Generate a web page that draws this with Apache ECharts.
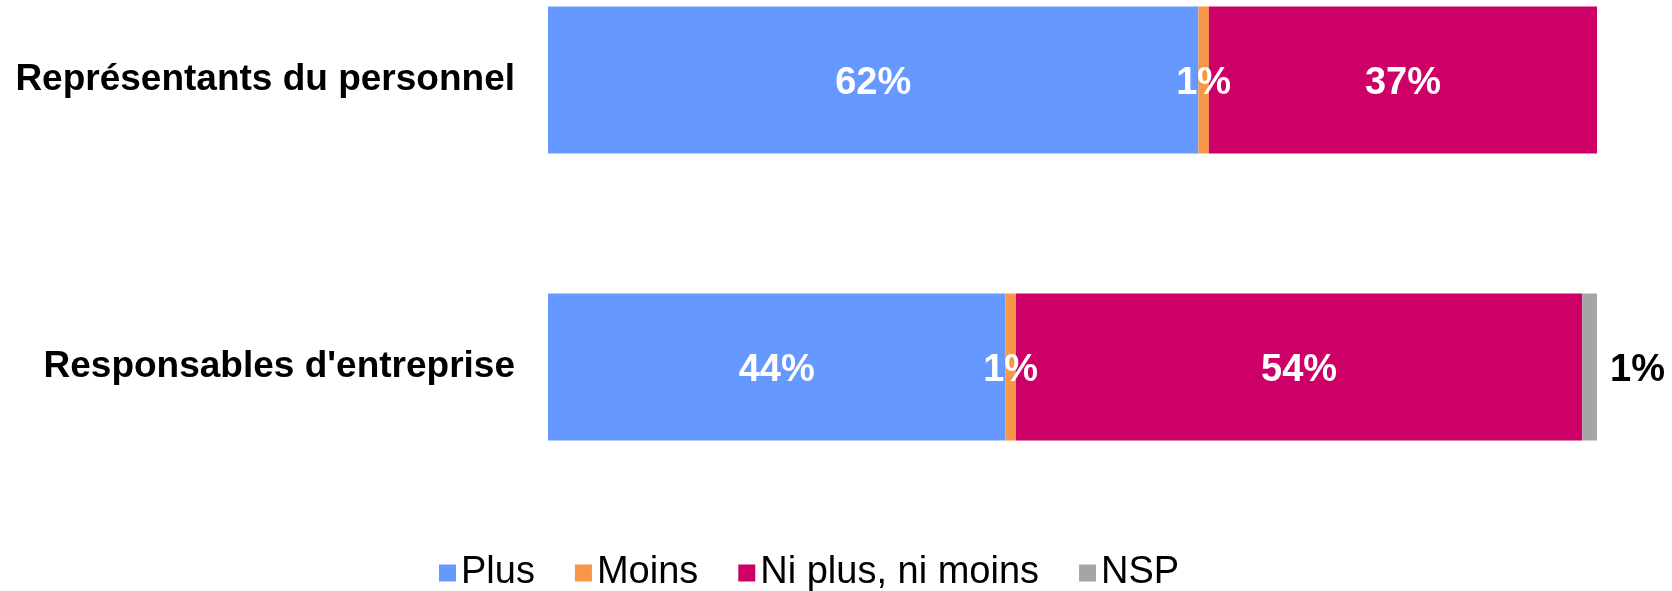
<!DOCTYPE html>
<html>
<head>
<meta charset="utf-8">
<script src="https://cdn.jsdelivr.net/npm/echarts@6/dist/echarts.min.js"></script>
<style>
html,body{margin:0;padding:0;background:#fff;}
#chart{width:1672px;height:591px;}
</style>
</head>
<body>
<div id="chart"></div>
<script>
const categories = ["Représentants du personnel", "Responsables d'entreprise"];
const seriesNames = ["Plus", "Moins", "Ni plus, ni moins", "NSP"];
const plusValues = [62, 43.6];
const moinsValues = [1, 1];
const niValues = [37, 54];
const nspValues = [0, 1.4];
const colors = ["#6699FF", "#F79646", "#CC0066", "#A5A5A5"];

const FONT = "Liberation Sans, Arial, sans-serif";
const allValues = [plusValues, moinsValues, niValues, nspValues];

const series = allValues.map((vals, i) => ({
  name: seriesNames[i],
  type: 'bar',
  stack: 'total',
  barWidth: 147,
  data: vals,
  itemStyle: { color: colors[i] },
  label: {
    show: true,
    position: i === 3 ? 'right' : 'inside',
    distance: 13,
    offset: [0, 4],
    formatter: p => p.value > 0 ? Math.round(p.value) + '%' : '',
    color: i === 3 ? '#000' : '#fff',
    fontFamily: FONT,
    fontWeight: 'bold',
    fontSize: 38
  },
  emphasis: { disabled: true }
}));

const chart = echarts.init(document.getElementById('chart'), null, { renderer: 'canvas' });
chart.setOption({
  animation: false,
  grid: { left: 548, right: 75, top: 80, bottom: 224, containLabel: false },
  xAxis: {
    type: 'value', min: 0, max: 100,
    show: false
  },
  yAxis: {
    type: 'category',
    data: categories,
    inverse: true,
    boundaryGap: false,
    axisLine: { show: false },
    axisTick: { show: false },
    splitLine: { show: false },
    axisLabel: {
      margin: 33,
      color: '#000',
      fontFamily: FONT,
      fontWeight: 'bold',
      fontSize: 37,
      padding: [6, 0, 0, 0]
    }
  },
  legend: {
    data: seriesNames,
    left: 434,
    top: 549,
    itemWidth: 17,
    itemHeight: 17,
    itemGap: 40,
    icon: 'rect',
    textStyle: { color: '#000', fontFamily: FONT, fontSize: 38 }
  },
  series: series
});
</script>
</body>
</html>
